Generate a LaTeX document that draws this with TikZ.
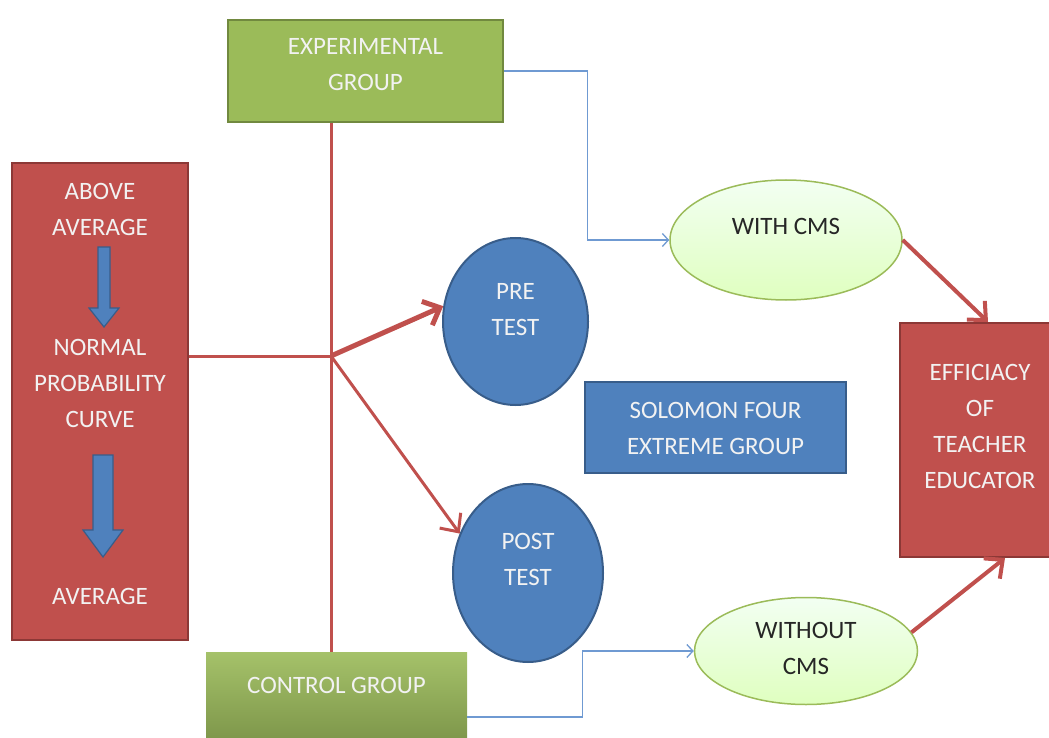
\documentclass[tikz,border=0pt]{standalone}
\usepackage{fontspec}
\setmainfont{Carlito}
\usetikzlibrary{shapes.geometric,arrows.meta,positioning}
\definecolor{grn}{HTML}{9BBB59}
\definecolor{grndk}{HTML}{71893F}
\definecolor{rd}{HTML}{C0504D}
\definecolor{rddk}{HTML}{8C3836}
\definecolor{bl}{HTML}{4F81BD}
\definecolor{bldk}{HTML}{385D8A}
\definecolor{bltn}{HTML}{6F9AD2}
\tikzset{
    txt/.style={align=center,text=white!95!black,font=\fontsize{25}{36}\selectfont,inner sep=0pt},
    greenbox/.style={rectangle,draw=grndk,line width=2.5pt,fill=grn},
    greengrad/.style={rectangle,top color=grn!90!white,bottom color=grndk!95!black,draw=none},
    redbox/.style={rectangle,draw=rddk,line width=2pt,fill=rd},
    bluebox/.style={rectangle,draw=bldk,line width=2pt,fill=bl},
    blueoval/.style={ellipse,draw=bldk,line width=2pt,fill=bl},
    limeoval/.style={ellipse,draw=grn,line width=1.5pt,top color=green!5!white,bottom color=green!50!yellow!25!white},
    redline/.style={draw=rd,line width=3pt},
    redarrow/.style={draw=rd,line width=4pt,-{Straight Barb[length=14pt,width=26pt]}},
    bluelink/.style={draw=bltn,line width=1.3pt,-{Straight Barb[length=6pt,width=13pt]}},
    downarrow/.style={fill=bl,draw=bldk,line width=1.2pt},
}
\begin{document}
\begin{tikzpicture}[x=1pt,y=-1pt]
\useasboundingbox (0,0) rectangle (1049,738);

% boxes
\node[greenbox,minimum width=275pt,minimum height=102pt] (exp) at (365.5,71) {};
\node[txt] (exptext) at (365.5,64.5) {EXPERIMENTAL\\GROUP};
\node[greengrad,minimum width=261pt,minimum height=130pt] (ctrl) at (336.5,717) {};
\node[txt] (ctrltext) at (336.5,685) {CONTROL GROUP};
\node[redbox,minimum width=176pt,minimum height=477pt] (lbox) at (100,401.5) {};
\node[bluebox,minimum width=261pt,minimum height=91pt] (solo) at (715.5,427.5) {};
\node[txt] (solotext) at (715.5,428) {SOLOMON FOUR\\EXTREME GROUP};
\node[redbox,minimum width=160pt,minimum height=234pt] (eff) at (980,440) {};
\node[txt] (efftext) at (980,426) {EFFICIACY\\OF\\TEACHER\\EDUCATOR};

% text and arrows in the left box
\node[txt] (above) at (100,209) {ABOVE\\AVERAGE};
\node[txt] (npc) at (100,383) {NORMAL\\PROBABILITY\\CURVE};
\node[txt] (avg) at (100,596) {AVERAGE};
\draw[downarrow] (98,247) -- (110,247) -- (110,308) -- (119,308) -- (104,327) -- (89,308) -- (98,308) -- cycle;
\draw[downarrow] (93,455) -- (113,455) -- (113,530) -- (123,530) -- (103,557) -- (83,530) -- (93,530) -- cycle;

% ovals
\node[blueoval,minimum width=145pt,minimum height=167pt] (pre) at (515.5,321.5) {};
\node[txt] (pretext) at (515.5,310) {PRE\\TEST};
\node[blueoval,minimum width=150pt,minimum height=178pt] (post) at (528,573) {};
\node[txt] (posttext) at (528,559) {POST\\TEST};
\node[limeoval,minimum width=232pt,minimum height=120pt] (with) at (786,240) {};
\node[txt,text=black!85] (withtext) at (786,226) {WITH CMS};
\node[limeoval,minimum width=223pt,minimum height=107pt] (without) at (806,651) {};
\node[txt,text=black!85] (withouttext) at (806,648) {WITHOUT\\CMS};

% connectors
\coordinate (jn) at (331,356);
\draw[redline] (exp.south -| jn) -- (ctrl.north -| jn);
\draw[redline] (jn -| lbox.east) -- (jn);
\draw[redarrow,line width=5pt] (jn) -- (pre.168);
\draw[redarrow,line width=3pt] (jn) -- (post.150);
\draw[bluelink] (exp.east) -- ++(83,0) |- (with.west);
\draw[bluelink] (ctrl.east) -- ++(115,0) |- (without.west);
\draw[redarrow] (with.east) -- ([xshift=8pt]eff.north);
\draw[redarrow] (without.10) -- ([xshift=25pt]eff.south);
\end{tikzpicture}
\end{document}
